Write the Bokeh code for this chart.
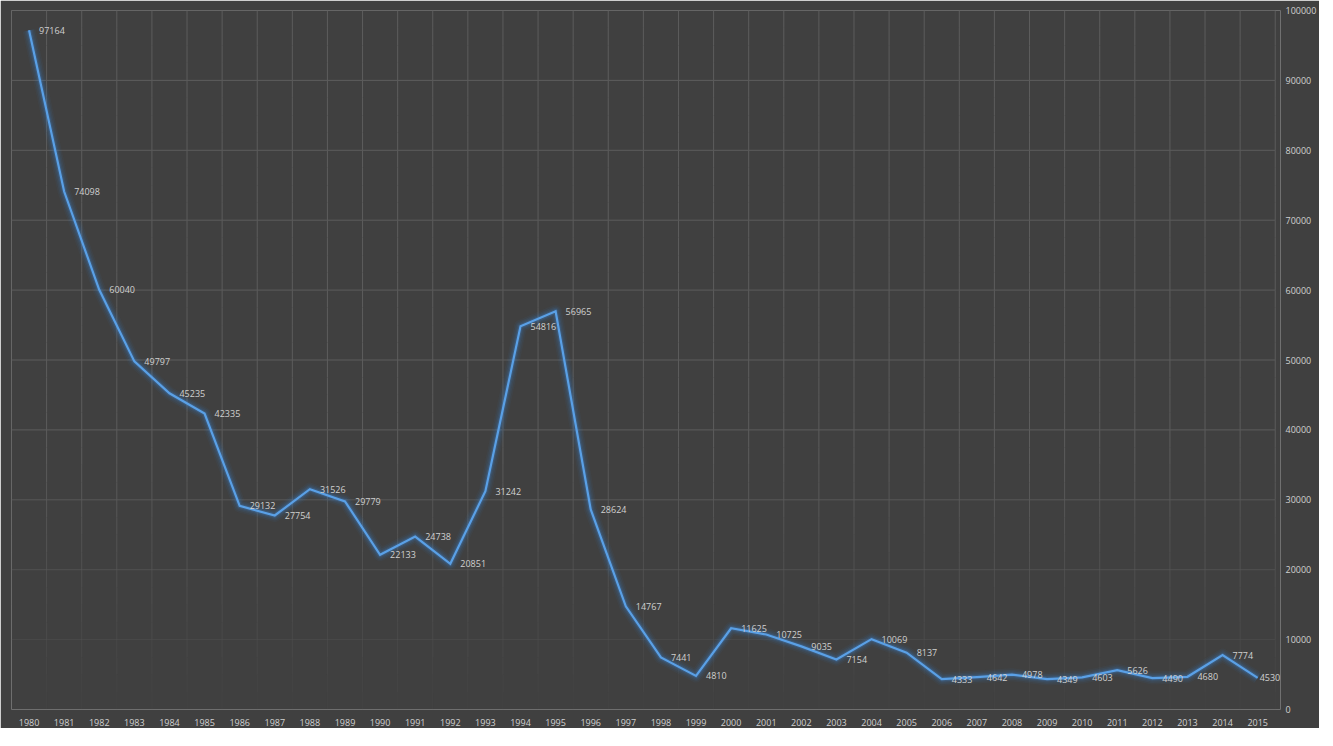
from bokeh.plotting import figure
from bokeh.models import FixedTicker, Range1d, LinearAxis, ColumnDataSource, LabelSet
from bokeh.core.properties import value
from bokeh.embed import file_html
from bokeh.resources import INLINE

years = list(range(1980, 2016))
values = [97164, 74098, 60040, 49797, 45235, 42335, 29132, 27754, 31526, 29779,
          22133, 24738, 20851, 31242, 54816, 56965, 28624, 14767, 7441, 4810,
          11625, 10725, 9035, 7154, 10069, 8137, 4333, 4642, 4978, 4349,
          4603, 5626, 4490, 4680, 7774, 4530]
y_ticks = list(range(0, 100001, 10000))
labels = [str(v) for v in values]

BG = "#404040"
TXT = "#d0d0d0"
FONT = "Open Sans"

# small extra room on the right so the last data label is not clipped
p = figure(frame_width=1269, frame_height=699, output_backend="svg", toolbar_location=None,
           x_range=Range1d(years[0] - 0.5, years[-1] + 0.65),
           y_range=Range1d(0, 100000), y_axis_location=None,
           background_fill_color=BG, border_fill_color=BG, outline_line_color=None,
           min_border_left=11, min_border_top=10, min_border_right=4, min_border_bottom=4)

p.xgrid.visible = False
p.ygrid.visible = False

# grid lines that fade towards the bottom
def grid_alpha(v):
    return max(0.0, min(1.0, 0.05 + v / 38000.0))

nseg = 40
x0s, x1s, y0s, y1s, als = [], [], [], [], []
bounds = [y - 0.5 for y in years] + [years[-1] + 0.5]
for b in bounds:
    for k in range(nseg):
        ya = 100000 * k / nseg
        yb = 100000 * (k + 1) / nseg
        x0s.append(b); x1s.append(b); y0s.append(ya); y1s.append(yb)
        als.append(grid_alpha((ya + yb) / 2))
for t in y_ticks:
    x0s.append(bounds[0]); x1s.append(bounds[-1]); y0s.append(t); y1s.append(t)
    als.append(grid_alpha(t))
p.segment(x0=x0s, x1=x1s, y0=y0s, y1=y1s, line_color="#5c5c5c", line_alpha=als, line_width=1)

offsets = [10] * (len(years) - 1) + [2]
src = ColumnDataSource(dict(x=years, y=values, lab=labels, xo=offsets))

# glow
for w, a in [(13, 0.05), (10, 0.07), (7, 0.1), (4.5, 0.2)]:
    p.line("x", "y", source=src, line_color="#3f8ee0", line_width=w, line_alpha=a, line_join="round")
p.line("x", "y", source=src, line_color="#5aa0e6", line_width=2.2, line_join="miter")

p.text("x", "y", text="lab", source=src, x_offset="xo", text_baseline="middle", text_align="left",
       text_font=value(FONT), text_font_size="9px", text_color=TXT)

# x axis
xa = p.xaxis[0]
xa.ticker = FixedTicker(ticks=years)
xa.axis_line_color = None
xa.major_tick_line_color = None
xa.minor_tick_line_color = None
xa.major_tick_out = 0
xa.major_tick_in = 0
xa.major_label_standoff = 9
xa.major_label_text_font = FONT
xa.major_label_text_font_size = "9px"
xa.major_label_text_color = TXT

# y axis on right
ya = LinearAxis(ticker=FixedTicker(ticks=y_ticks))
ya.axis_line_color = None
ya.major_tick_line_color = None
ya.minor_tick_line_color = None
ya.major_tick_out = 0
ya.major_tick_in = 0
ya.major_label_standoff = 5
ya.major_label_text_font = FONT
ya.major_label_text_font_size = "9px"
ya.major_label_text_color = TXT
ya.major_label_overrides = {t: str(t) for t in y_ticks}
p.add_layout(ya, "right")

open("out.html", "w").write(file_html(p, INLINE))
